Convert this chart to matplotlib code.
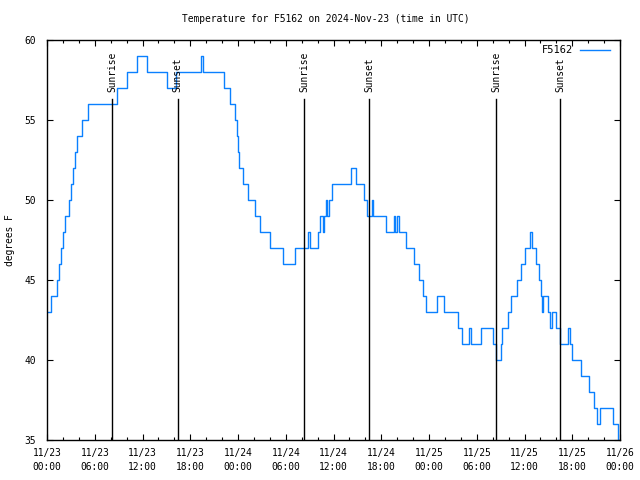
import matplotlib
matplotlib.use("Agg")
import matplotlib.pyplot as plt
import matplotlib.dates as mdates
import numpy as np
from datetime import datetime, timedelta

# Data: hours since 2024-11-23 00:00 UTC where temperature changes, and the new value (F)
hours = [0.0, 0.5, 1.25, 1.55, 1.8, 2.05, 2.3, 2.75, 3.0, 3.25, 3.5, 3.8, 4.35, 5.1,
         8.85, 10.0, 11.3, 12.6, 15.1, 16.25, 19.3, 19.6, 22.3, 23.05, 23.6, 23.85,
         24.0, 24.1, 24.6, 25.25, 26.15, 26.75, 28.05, 29.6, 31.1, 32.75, 33.0, 34.1,
         34.35, 34.7, 34.85, 35.0, 35.2, 35.45, 35.8, 38.2, 38.85, 39.8, 40.2, 40.8,
         41.0, 42.55, 43.6, 43.75, 44.0, 44.2, 45.1, 46.15, 46.7, 47.3, 47.6, 49.0,
         49.9, 51.7, 52.1, 53.05, 53.3, 54.5, 56.0, 56.45, 57.0, 57.2, 57.9, 58.3,
         59.0, 59.5, 60.1, 60.7, 60.95, 61.5, 61.85, 62.05, 62.15, 62.3, 62.95, 63.2,
         63.5, 63.95, 64.45, 65.5, 65.7, 66.0, 67.1, 68.05, 68.7, 69.1, 69.5, 71.1,
         71.7, 72.0]
temps = [43, 44, 45, 46, 47, 48, 49, 50, 51, 52, 53, 54, 55, 56,
         57, 58, 59, 58, 57, 58, 59, 58, 57, 56, 55, 54,
         53, 52, 51, 50, 49, 48, 47, 46, 47, 48, 47, 48,
         49, 48, 49, 50, 49, 50, 51, 52, 51, 50, 49, 50,
         49, 48, 49, 48, 49, 48, 47, 46, 45, 44, 43, 44,
         43, 42, 41, 42, 41, 42, 41, 40, 41, 42, 43, 44,
         45, 46, 47, 48, 47, 46, 45, 44, 43, 44, 43, 42,
         43, 42, 41, 42, 41, 40, 39, 38, 37, 36, 37, 36,
         35, 35]

sun_hours = [8.2, 16.4, 32.3, 40.5, 56.45, 64.5]
sun_labels = ["Sunrise", "Sunset", "Sunrise", "Sunset", "Sunrise", "Sunset"]

start = datetime(2024, 11, 23)
times = [start + timedelta(hours=h) for h in hours]
sun_times = [start + timedelta(hours=h) for h in sun_hours]

FONT = "DejaVu Sans Mono"
FS = 6.9
plt.rcParams['font.family'] = FONT
plt.rcParams['font.size'] = FS

fig = plt.figure(figsize=(6.4, 4.8), dpi=100)
ax = fig.add_axes([47/640, 1-440/480, 573/640, 400/480])

ax.plot(times, temps, color="#0a80ff", lw=1.0, drawstyle="steps-post", label="F5162")

for t, lab in zip(sun_times, sun_labels):
    ax.plot([t, t], [35, 56.3], color="black", lw=1.0)
    ax.text(t, 56.75, lab, rotation=90, ha="center", va="bottom", fontsize=FS)

ax.set_xlim(start, start + timedelta(hours=72))
ax.set_ylim(35, 60)
ax.set_yticks([35, 40, 45, 50, 55, 60])
ax.xaxis.set_major_locator(mdates.HourLocator(byhour=[0, 6, 12, 18]))
ax.xaxis.set_minor_locator(mdates.HourLocator(byhour=range(0, 24, 2)))
ax.xaxis.set_major_formatter(mdates.DateFormatter("%m/%d\n%H:%M"))
ax.tick_params(axis="both", which="major", direction="in", length=4, width=0.8,
               top=True, right=True, labelsize=FS, pad=6)
ax.tick_params(axis="x", which="minor", direction="in", length=2.5, width=0.8, top=True)
ax.tick_params(axis="y", which="major", pad=8)
for lab in ax.get_xticklabels():
    lab.set_linespacing(1.4)
for s in ax.spines.values():
    s.set_linewidth(1.0)

ax.legend(loc="upper right", bbox_to_anchor=((615 - 47) / 573, 1.0), frameon=False,
          markerfirst=False, handlelength=2.9, borderaxespad=0.1, handletextpad=0.6,
          fontsize=FS + 0.6)

fig.text(326/640, 1-19/480, "Temperature for F5162 on 2024-Nov-23 (time in UTC)",
         ha="center", va="center", fontsize=FS)
fig.text(10/640, 1-240/480, "degrees F", rotation=90, ha="center", va="center", fontsize=FS)

fig.savefig("out.png", dpi=100)
